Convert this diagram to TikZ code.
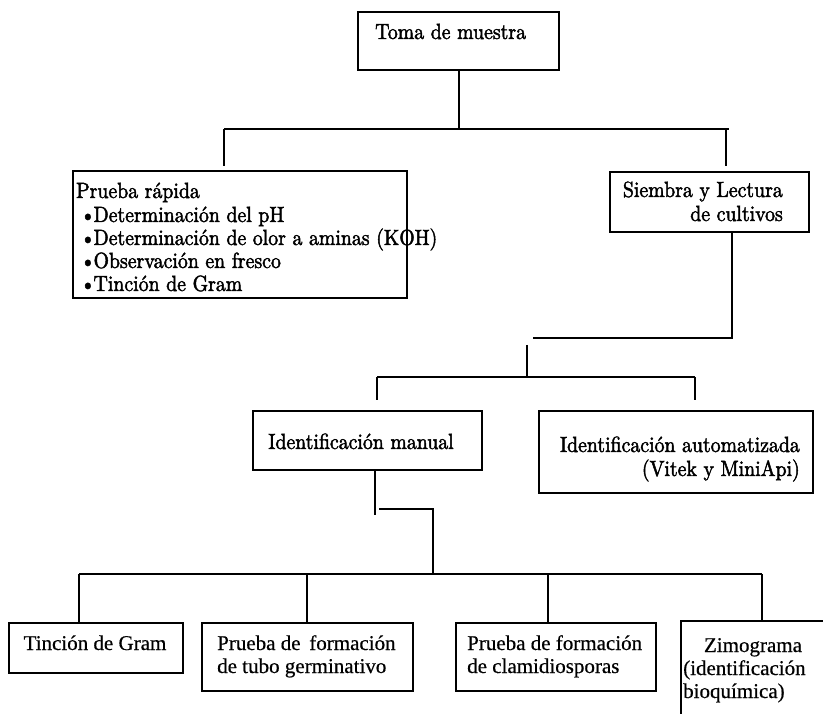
\documentclass[tikz,border=0pt]{standalone}
\usepackage{fontspec}
\newfontfamily\upfont{lmroman10-regular.otf}[FakeBold=2,FakeStretch=0.9]
\newfontfamily\lowfont{Liberation Serif}[FakeBold=0.5]
\begin{document}
\begin{tikzpicture}[x=1pt,y=-1pt,
  box/.style={draw,line width=2pt,inner sep=0pt,anchor=north west},
  conn/.style={line width=2pt},
  up/.style={font=\upfont\fontsize{22}{24}\selectfont,inner sep=0pt,text height=15pt,text depth=5pt},
  low/.style={font=\lowfont\fontsize{21}{24}\selectfont,inner sep=0pt,text height=15pt,text depth=5pt}]
\useasboundingbox (0,0) rectangle (823,714);
% boxes
\node[box,minimum width=201pt,minimum height=58pt] (toma) at (357,11) {};
\node[box,minimum width=334pt,minimum height=127pt] (rapida) at (72,170) {};
\node[box,minimum width=199pt,minimum height=60pt] (siembra) at (609,171) {};
\node[box,minimum width=229pt,minimum height=59pt] (manual) at (252,410) {};
\node[box,minimum width=274pt,minimum height=82pt] (auto) at (538,410) {};
\node[box,minimum width=174pt,minimum height=50pt] (tincion) at (8,622) {};
\node[box,minimum width=211pt,minimum height=68pt] (tubo) at (201,622) {};
\node[box,minimum width=200pt,minimum height=68pt] (clami) at (455,622) {};
% open box (Zimograma)
\coordinate (zimoTL) at (681,621);
\coordinate (zimoTR) at (823,621);
\coordinate (zimoBL) at (681,714);
\draw[line width=2pt] (zimoBL) -- (zimoTL) -- (zimoTR);
% texts
\node[up,anchor=west] (tomat) at (375,34) {Toma de muestra};
\node[up,anchor=west] (r1) at (76,193) {Prueba rápida};
\node[up,anchor=west] (r2) at (80,217) {•\kern-2pt Determinación del pH};
\node[up,anchor=west] (r3) at (80,240) {•\kern-2pt Determinación de olor a aminas (KOH)};
\node[up,anchor=west] (r4) at (80,263) {•\kern-2pt Observación en fresco};
\node[up,anchor=west] (r5) at (80,286) {•\kern-2pt Tinción de Gram};
\node[up,anchor=east] (s1) at (783,192) {Siembra y Lectura};
\node[up,anchor=east] (s2) at (783,216) {de cultivos};
\node[up] (m1) at (361,444) {Identificación manual};
\node[up,anchor=east] (a1) at (800,447) {Identificación automatizada};
\node[up,anchor=east] (a2) at (800,471) {(Vitek y MiniApi)};
\node[low] (t1) at (95,645) {Tinción de Gram};
\node[low,anchor=west] (g1) at (217,645) {Prueba de\, formación};
\node[low,anchor=west] (g2) at (217,668) {de tubo germinativo};
\node[low,anchor=west] (c1) at (467,645) {Prueba de formación};
\node[low,anchor=west] (c2) at (467,668) {de clamidiosporas};
\node[low] (z1) at (753,647) {Zimograma};
\node[low,anchor=west] (z2) at (683,670) {(identificación};
\node[low,anchor=west] (z3) at (683,693) {bioquímica)};
% connectors level 1
\coordinate (h1l) at (224,129);
\coordinate (h1r) at (729,129);
\coordinate (d1l) at (224,166);
\coordinate (d1r) at (726,166);
\draw[conn] (toma.south) -- (toma.south |- h1l);
\draw[conn] (h1l) -- (h1r);
\draw[conn] (h1l) -- (d1l);
\draw[conn] (d1l |- h1r) -- (d1r |- h1r) -- (d1r);
% connectors level 2
\coordinate (s2a) at (732,338);
\coordinate (s2b) at (533,338);
\coordinate (v2t) at (527,345);
\coordinate (v2b) at (527,377);
\coordinate (h2l) at (377,377);
\coordinate (h2r) at (695,377);
\coordinate (d2l) at (377,400);
\coordinate (d2r) at (695,400);
\draw[conn] (siembra.south -| s2a) -- (s2a) -- (s2b);
\draw[conn] (v2t) -- (v2b);
\draw[conn] (h2l) -- (h2r);
\draw[conn] (h2l) -- (d2l);
\draw[conn] (h2r) -- (d2r);
% connectors level 3
\coordinate (m3a) at (375,515);
\coordinate (m3b) at (379,509);
\coordinate (m3c) at (433,509);
\coordinate (h3l) at (79,574);
\coordinate (h3r) at (762,574);
\draw[conn] (manual.south -| m3a) -- (m3a);
\draw[conn] (m3b) -- (m3c) -- (m3c |- h3l);
\draw[conn] (h3l) -- (h3r);
\draw[conn] (h3l) -- (tincion.north -| h3l);
\draw[conn] (tubo.north -| 307,0) -- (307,574);
\draw[conn] (clami.north -| 548,0) -- (548,574);
\draw[conn] (h3r) -- (h3r |- zimoTL);
\end{tikzpicture}
\end{document}
